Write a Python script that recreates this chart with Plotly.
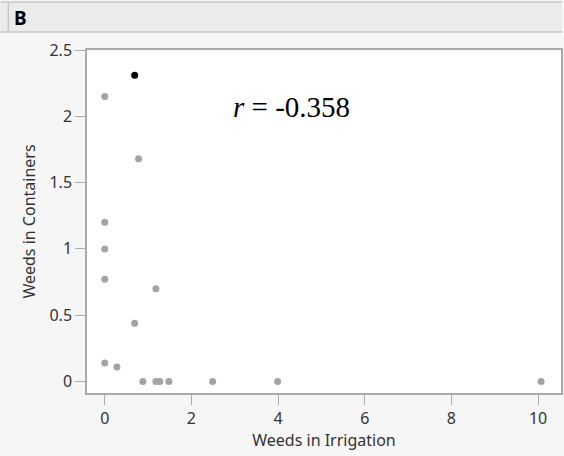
import plotly.graph_objects as go

# Data
irrigation = [0, 0, 0, 0, 0, 0.78, 1.18, 0.69, 0.28, 0.88, 1.18, 1.27, 1.48, 2.49, 3.99, 10.07]
containers = [2.15, 1.20, 1.00, 0.77, 0.14, 1.68, 0.70, 0.44, 0.11, 0, 0, 0, 0, 0, 0, 0]
highlight_x = [0.69]
highlight_y = [2.31]
r_value = -0.358
panel_label = "B"
x_ticks = [0, 2, 4, 6, 8, 10]
y_ticks = [0, 0.5, 1, 1.5, 2, 2.5]

W, H = 564, 456
L, R, T, B = 87, 1, 50, 63
pw, ph = W - L - R, H - T - B

def px_x(p):
    return (p - L) / pw

def px_y(p):
    return (H - B - p) / ph

fig = go.Figure()
fig.add_trace(go.Scatter(x=irrigation, y=containers, mode="markers",
                         marker=dict(size=7, color="#a3a3a3"), showlegend=False))
fig.add_trace(go.Scatter(x=highlight_x, y=highlight_y, mode="markers",
                         marker=dict(size=7, color="#000000"), showlegend=False))

tick_font = dict(family="Noto Sans, Open Sans, sans-serif", size=16, color="#333333")
title_font = dict(family="Noto Sans, Open Sans, sans-serif", size=16, color="#333333")
fig.update_xaxes(range=[-0.41, 10.53], tickvals=x_ticks, ticktext=[str(v) for v in x_ticks],
                 showgrid=False, zeroline=False, showline=True, linecolor="#aaaaaa", linewidth=1.5,
                 mirror=True, ticks="outside", ticklen=10, tickcolor="#aaaaaa", tickwidth=1,
                 tickfont=tick_font, title=dict(text="Weeds in Irrigation", font=title_font, standoff=4))
fig.update_yaxes(range=[-0.087, 2.5], tickvals=y_ticks, ticktext=[("%g" % v) for v in y_ticks],
                 showgrid=False, zeroline=False, showline=True, linecolor="#aaaaaa", linewidth=1.5,
                 mirror=True, ticks="outside", ticklen=10, tickcolor="#aaaaaa", tickwidth=1,
                 tickfont=tick_font, title=dict(text="Weeds in Containers", font=title_font, standoff=10))

shapes = [
    dict(type="rect", xref="paper", yref="paper", x0=px_x(0), x1=px_x(W), y0=px_y(32), y1=px_y(2),
         fillcolor="#ebebeb", line=dict(width=0), layer="below"),
    dict(type="line", xref="paper", yref="paper", x0=px_x(0), x1=px_x(W), y0=px_y(2), y1=px_y(2),
         line=dict(color="#c8c8c8", width=1.5)),
    dict(type="line", xref="paper", yref="paper", x0=px_x(0), x1=px_x(W), y0=px_y(32), y1=px_y(32),
         line=dict(color="#c8c8c8", width=1.5)),
    dict(type="line", xref="paper", yref="paper", x0=px_x(8), x1=px_x(8), y0=px_y(2), y1=px_y(32),
         line=dict(color="#c8c8c8", width=1.5)),
]

annotations = [
    dict(xref="paper", yref="paper", x=px_x(12), y=px_y(18), xanchor="left", yanchor="middle",
         text="<b>%s</b>" % panel_label, showarrow=False,
         font=dict(family="Noto Sans, sans-serif", size=19, color="#000000")),
    dict(xref="paper", yref="paper", x=px_x(292), y=px_y(107), xanchor="center", yanchor="middle",
         text="<i>r</i> = %.3f" % r_value, showarrow=False,
         font=dict(family="Liberation Serif", size=29, color="#000000")),
]

fig.update_layout(width=W, height=H, margin=dict(l=L, r=R, t=T, b=B),
                  paper_bgcolor="#f6f6f6", plot_bgcolor="#ffffff",
                  shapes=shapes, annotations=annotations)

fig.write_html("out.html", config={"displayModeBar": False},
               post_script="document.body.style.margin='0';")
